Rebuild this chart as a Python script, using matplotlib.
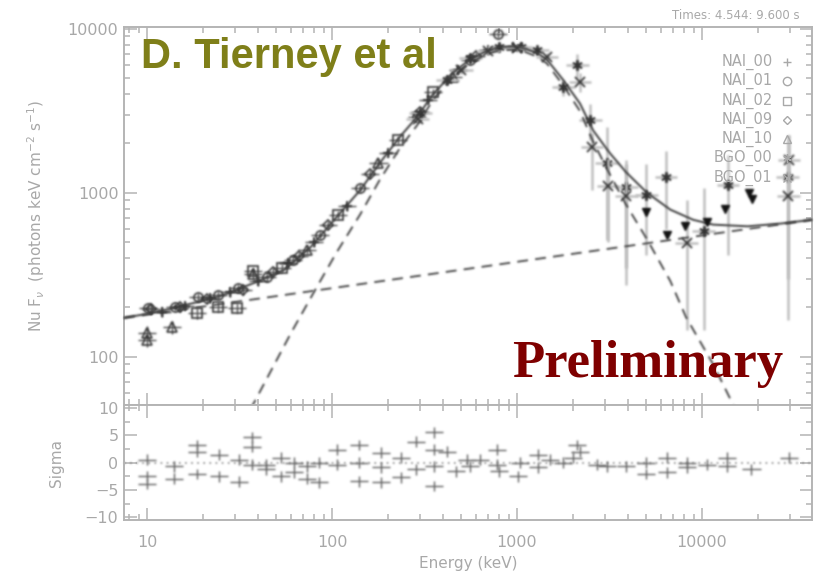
import matplotlib.pyplot as plt
from matplotlib.ticker import FixedLocator, FuncFormatter, LogLocator, MultipleLocator, NullFormatter
import numpy as np

# fitted model (keV, photons keV cm^-2 s^-1): total, Band component, extra power law
model_e = [7.5, 10, 14, 20, 26, 38, 55, 77, 106, 142, 181, 233, 288, 352, 450, 557,
           680, 800, 950, 1100, 1290, 1450, 1770, 2190, 2580, 3170, 3900, 5050, 6740,
           8960, 11500, 17700, 26800, 39300]
model_f = [173, 183, 199, 220, 239, 283, 339, 470, 713, 1040, 1520, 2200, 2900, 4000,
           5400, 6500, 7300, 7750, 7800, 7600, 7100, 6500, 4900, 3500, 2400, 1750, 1330,
           1000, 790, 685, 640, 625, 650, 685]
band_e = [36, 38, 60, 81, 106, 142, 181, 233, 288, 352, 450, 557, 680, 800, 950, 1100,
          1290, 1450, 1770, 2190, 2580, 3170, 3880, 5050, 6740, 8190, 11500, 14500, 15500]
band_f = [48, 53, 140, 256, 435, 740, 1200, 1880, 2580, 3700, 5100, 6180, 7000, 7400,
          7450, 7250, 6750, 6150, 4550, 3150, 2050, 1300, 850, 520, 290, 175, 90, 53, 46]
pl_e = [7.5, 39300]
pl_f = [173, 685]

# NaI detectors
nai00_e = [12, 16, 22, 28, 40, 58, 80, 120, 200, 330, 480, 700, 950]
nai00_f = [188, 205, 228, 248, 290, 372, 500, 830, 1750, 3700, 5600, 7400, 7800]
nai00_err = [12, 12, 14, 15, 18, 22, 30, 50, 100, 200, 300, 400, 450]
nai01_e = [10.1, 14.2, 18.9, 24.2, 31, 44.5, 61.5, 86, 142, 288, 557, 790]
nai01_f = [199, 202, 232, 239, 263, 307, 390, 555, 1070, 2900, 6460, 9300]
nai01_err = [12, 12, 14, 14, 16, 18, 22, 32, 60, 160, 350, 500]
nai02_e = [18.6, 24.2, 30.6, 37.5, 53.7, 108, 227, 352]
nai02_f = [185, 202, 199, 335, 349, 731, 2100, 4100]
nai02_err = [14, 14, 15, 20, 20, 40, 120, 220]
nai09_e = [10.5, 15, 21, 33, 48, 66, 95, 160, 300, 600]
nai09_f = [195, 200, 225, 255, 330, 410, 640, 1300, 3100, 6800]
nai09_err = [12, 12, 13, 15, 18, 24, 36, 70, 170, 380]
nai10_e = [10, 10, 13.6, 37.5, 73, 178, 450]
nai10_f = [140, 127, 152, 320, 450, 1520, 5100]
nai10_err = [14, 12, 14, 20, 25, 80, 280]

# BGO detectors
bgo00_e = [300, 420, 560, 800, 1050, 1290, 1780, 2120, 2490, 3050, 3900, 5000, 6400,
           10200, 13800, 29000]
bgo00_f = [3050, 4900, 6600, 7800, 7700, 7400, 4400, 6000, 2780, 1520, 1090, 970, 1250,
           585, 1120, 1250]
bgo00_lo = [2850, 4650, 6300, 7450, 7350, 7000, 3900, 5000, 2100, 517, 275, 420, 600,
            146, 420, 168]
bgo00_hi = [3250, 5150, 6900, 8150, 8050, 7800, 4900, 7000, 3500, 2530, 1590, 1500, 1800,
            1070, 1700, 2250]
bgo01_e = [290, 500, 700, 1000, 1450, 2190, 2550, 3100, 3900, 8250, 29300, 29600]
bgo01_f = [2800, 5600, 7300, 7600, 6700, 4750, 1900, 1100, 950, 495, 960, 1590]
bgo01_lo = [2650, 5300, 6950, 7250, 6300, 4100, 1040, 500, 350, 146, 300, 900]
bgo01_hi = [2950, 5900, 7650, 7950, 7100, 5400, 2320, 1600, 1500, 900, 1600, 2250]

# upper limits
ul_e = [5000, 6500, 8100, 10600, 13300, 17900, 18700]
ul_f = [766, 555, 630, 665, 800, 1000, 920]

# residuals (sigma)
res_e = [10, 10, 10, 14, 14, 18.6, 18.6, 18.6, 24.5, 24.5, 31.4, 31.4, 37, 37, 37,
         44, 44, 53, 53, 62, 62, 73, 73, 85, 85, 106, 106, 140, 140, 140, 184, 184, 184,
         236, 236, 284, 284, 357, 357, 357, 357, 420, 470, 535,
         556, 630, 780, 780, 800, 1010, 1040, 1300, 1300, 1500, 1780, 2120, 2200, 2000,
         2700, 3050, 3900, 5000, 5000, 6500, 6500, 8300, 8300, 10600, 13600, 13600, 18500,
         29600]
res_s = [-3.9, -2.5, 0.5, -0.7, -3.0, 2.0, 3.2, -2.1, 1.4, -2.5, 0.5, -3.5, 4.6, 2.9, -0.4,
         -0.4, -1.2, 0.9, -2.5, 0.0, -1.8, -0.7, -3.0, 0.0, -3.6, 2.3, -0.4, 3.2, 0.0, -3.4,
         1.8, -0.9, -3.6, 0.9, -2.7, 3.8, -1.2, 5.5, 2.3, -0.7, -4.3, 2.0, -1.6, 0.5,
         -0.7, 0.5, 2.3, -0.4, -1.6, -2.5, 0.0, 1.4, -0.9, 0.5, 0.0, 3.2, 2.0, 0.9,
         -0.4, -0.7, -0.7, 0.0, -2.1, 0.9, -1.8, -0.9, 0.0, -0.4, 0.9, -0.7, -1.2,
         0.9]

names = ['NAI_00', 'NAI_01', 'NAI_02', 'NAI_09', 'NAI_10', 'BGO_00', 'BGO_01']

axis_grey = '#b4b4b4'
text_grey = '#a8a8a8'
ink = '#333333'
asterisk = (6, 2, 0)


def soften(img, dpi, sigma=1.0, pad=4):
    # gaussian smear on premultiplied rgba, used as an agg_filter
    k = np.exp(-0.5 * (np.arange(-pad, pad + 1) / sigma) ** 2)
    k /= k.sum()
    ny, nx, _ = img.shape
    src = np.zeros((ny + 2 * pad, nx + 2 * pad, 4))
    src[pad:-pad, pad:-pad] = img
    src[..., :3] *= src[..., 3:4]
    tmp = np.zeros_like(src)
    for i, w in enumerate(k):
        tmp += w * np.roll(src, i - pad, axis=0)
    out = np.zeros_like(src)
    for i, w in enumerate(k):
        out += w * np.roll(tmp, i - pad, axis=1)
    a = out[..., 3:4]
    out[..., :3] = np.where(a > 1e-6, out[..., :3] / np.maximum(a, 1e-6), 0)
    return np.clip(out, 0, 1), -pad, -pad


def blurred(artists):
    for art in artists:
        art.set_agg_filter(soften)
        art.set_rasterized(True)


fig = plt.figure(figsize=(8.16, 5.71), dpi=100)
ax = fig.add_axes([0.152, 0.291, 0.843, 0.662])
ax2 = fig.add_axes([0.152, 0.089, 0.843, 0.202], sharex=ax)


def xbins(e, r):
    e = np.asarray(e, dtype=float)
    return [e - e / r, e * r - e]


def yrange(f, lo, hi):
    f = np.asarray(f, dtype=float)
    return [f - np.asarray(lo), np.asarray(hi) - f]


soft = []
nai = [(nai00_e, nai00_f, nai00_err, '+'),
       (nai01_e, nai01_f, nai01_err, 'o'),
       (nai02_e, nai02_f, nai02_err, 's'),
       (nai09_e, nai09_f, nai09_err, 'D'),
       (nai10_e, nai10_f, nai10_err, '^')]
for e, f, err, m in nai:
    eb = ax.errorbar(e, f, xerr=xbins(e, 1.12), yerr=err, fmt='none', ecolor='#4a4a4a',
                     elinewidth=1.0, capsize=0, zorder=2)
    soft += list(eb.lines[2])
    soft += ax.plot(e, f, ls='none', marker=m, ms=6.5 if m != 'D' else 5, mfc='none',
                    mec=ink, mew=1.2, zorder=2)

bgo = [(bgo00_e, bgo00_f, bgo00_lo, bgo00_hi, asterisk),
       (bgo01_e, bgo01_f, bgo01_lo, bgo01_hi, 'x')]
for e, f, lo, hi, m in bgo:
    eb = ax.errorbar(e, f, xerr=xbins(e, 1.15), yerr=yrange(f, lo, hi), fmt='none',
                     ecolor='#c0c0c0', elinewidth=1.8, capsize=0, zorder=2)
    soft += list(eb.lines[2])
    soft += ax.plot(e, f, ls='none', marker=m, ms=7.5, mfc='none', mec=ink, mew=1.3,
                    zorder=2)

soft += ax.plot(ul_e, ul_f, 'v', ms=5.5, color='#111111', zorder=4)

soft += ax.plot(model_e, model_f, color='#3c3c3c', lw=1.4, zorder=3)
soft += ax.plot(band_e, band_f, color='#3c3c3c', lw=1.3, ls=(0, (6, 4)), zorder=3)
soft += ax.plot(pl_e, pl_f, color='#3c3c3c', lw=1.3, ls=(0, (6, 4)), zorder=3)

eb = ax2.errorbar(res_e, res_s, xerr=xbins(res_e, 1.12), yerr=1.0, fmt='none',
                  ecolor='#5e5e5e', elinewidth=1.0, capsize=0)
soft += list(eb.lines[2])
soft.append(ax2.axhline(0, color='#6a6a6a', lw=1.1, ls=(0, (1, 3))))
blurred(soft)

ax.set_xscale('log')
ax.set_yscale('log')
ax.set_xlim(7.5, 39300)
ax.set_ylim(51, 10280)
ax2.set_ylim(-10.55, 10.55)

plain = FuncFormatter(lambda v, p: '%d' % v)
ax.yaxis.set_major_locator(FixedLocator([100, 1000, 10000]))
ax.yaxis.set_major_formatter(plain)
ax.yaxis.set_minor_locator(LogLocator(base=10, subs=np.arange(2, 10)))
ax.yaxis.set_minor_formatter(NullFormatter())
ax2.xaxis.set_major_locator(FixedLocator([10, 100, 1000, 10000]))
ax2.xaxis.set_major_formatter(plain)
ax2.xaxis.set_minor_locator(LogLocator(base=10, subs=np.arange(2, 10)))
ax2.xaxis.set_minor_formatter(NullFormatter())
ax2.yaxis.set_major_locator(FixedLocator([-10, -5, 0, 5, 10]))
ax2.yaxis.set_major_formatter(FuncFormatter(lambda v, p: '%d' % v if v >= 0 else '\u2212%d' % -v))
ax2.yaxis.set_minor_locator(MultipleLocator(2.5))

for a in (ax, ax2):
    for s in a.spines.values():
        s.set_color(axis_grey)
        s.set_linewidth(1.4)
    a.tick_params(which='both', direction='in', top=True, right=True, color=axis_grey,
                  labelcolor=text_grey, labelsize=11.5, width=1.1)
    a.tick_params(which='major', length=9)
    a.tick_params(which='minor', length=4.5)
    a.tick_params(axis='y', pad=4)
ax.tick_params(axis='x', labelbottom=False)
ax2.tick_params(axis='x', pad=11)

ax.set_ylabel(r'Nu F$_{\nu}$  (photons keV cm$^{-2}$ s$^{-1}$)', color=text_grey, fontsize=11)
ax.yaxis.set_label_coords(-0.112, 0.5)
ax2.set_ylabel('Sigma', color=text_grey, fontsize=11)
ax2.yaxis.set_label_coords(-0.087, 0.5)
ax2.set_xlabel('Energy (keV)', color=text_grey, fontsize=11)
ax2.xaxis.set_label_coords(0.5, -0.31)

# detector key, right-aligned like the IDL plot
key_marks = ['+', 'o', 's', 'D', '^', asterisk, 'x']
for i, (name, m) in enumerate(zip(names, key_marks)):
    y = 0.907 - i * 0.051
    ax.text(0.943, y, name, transform=ax.transAxes, ha='right', va='center',
            color=text_grey, fontsize=10.5)
    ax.plot([0.964], [y], marker=m, ms=6 if m != 'D' else 4.5, mfc='none',
            mec=text_grey, mew=1.0, transform=ax.transAxes, clip_on=False)

fig.text(0.980, 0.972, 'Times: 4.544: 9.600 s', ha='right', va='center',
         color=text_grey, fontsize=8.5)

fig.text(0.173, 0.881, 'D. Tierney et al', ha='left', va='baseline',
         color='#7f7f19', fontsize=30, fontweight='bold', family='Liberation Sans')
fig.text(0.627, 0.340, 'Preliminary', ha='left', va='baseline',
         color='#7f0000', fontsize=38, fontweight='bold', family='Liberation Serif')

fig.savefig('out.png', dpi=100, facecolor='white')
